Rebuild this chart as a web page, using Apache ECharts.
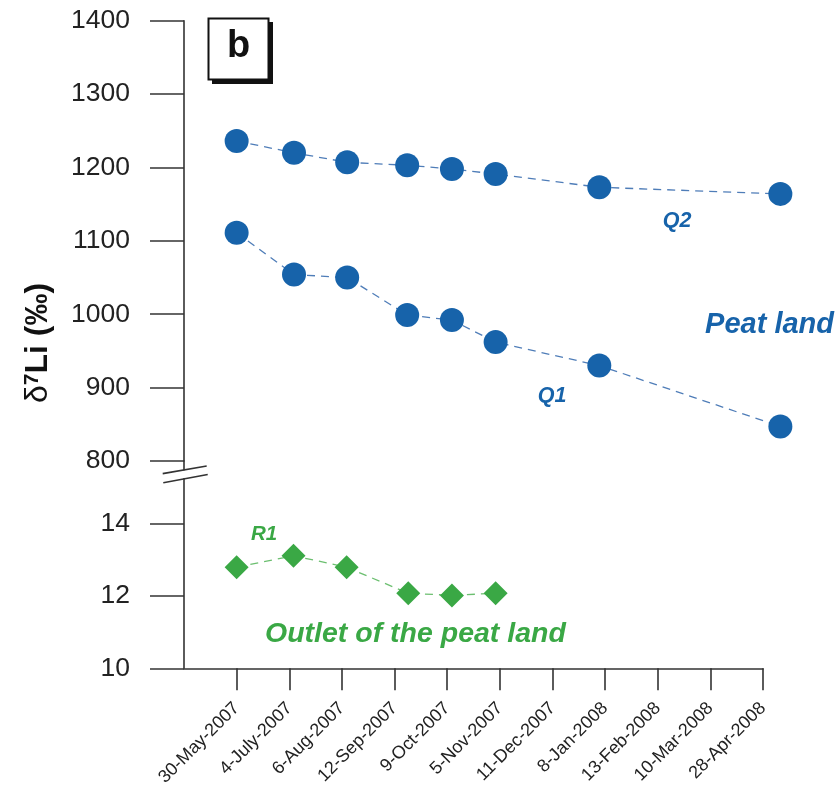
<!DOCTYPE html>
<html>
<head>
<meta charset="utf-8">
<script src="https://cdn.jsdelivr.net/npm/echarts@6/dist/echarts.min.js"></script>
<style>
html,body{margin:0;padding:0;background:#fff;}
#c{width:837px;height:794px;}
</style>
</head>
<body>
<div id="c"></div>
<script>
// ---- data ----
var dateLabels = ['30-May-2007','4-July-2007','6-Aug-2007','12-Sep-2007','9-Oct-2007','5-Nov-2007','11-Dec-2007','8-Jan-2008','13-Feb-2008','10-Mar-2008','28-Apr-2008'];
var qX  = [0, 1.09, 2.1, 3.24, 4.09, 4.92, 6.89, 10.33];
var q2  = [1236, 1220, 1207, 1203, 1198, 1191, 1173, 1164];
var q1  = [1111, 1054, 1050, 999, 992, 962, 930, 847];
var r1X = [0, 1.08, 2.09, 3.26, 4.09, 4.92];
var r1  = [12.80, 13.12, 12.80, 12.08, 12.02, 12.08];
var upperTicks = [800, 900, 1000, 1100, 1200, 1300, 1400];
var lowerTicks = [10, 12, 14];

function pairs(xs, ys){ return ys.map(function(v,i){ return [xs[i], v]; }); }

var FONT = '"Liberation Sans", Arial, Helvetica, sans-serif';
var BLUE = '#1763aa', BLUE_LINE = '#4f7db8', GREEN = '#3aa845', GREEN_LINE = '#6cbf70', AX = '#333';

var left = 184, unit = 579 / 11;
var chart = echarts.init(document.getElementById('c'));

function axisLine(){ return { show: true, onZero: false, lineStyle: { color: AX, width: 1.6 } }; }
function plain(v){ return String(v); }

chart.setOption({
  backgroundColor: '#fff',
  animation: false,
  grid: [
    { left: left, top: 20.7, width: unit * 12, height: 440.3 },
    { left: left, top: 461, width: unit * 11, height: 207.3 }
  ],
  xAxis: [
    { gridIndex: 0, type: 'value', min: -1, max: 11, show: false, axisLine: { onZero: false } },
    {
      gridIndex: 1, type: 'value', min: -1, max: 10, interval: 1,
      axisLine: axisLine(), splitLine: { show: false },
      axisTick: { show: true, length: 22, lineStyle: { color: AX, width: 1.6 }, customValues: [0,1,2,3,4,5,6,7,8,9,10] },
      axisLabel: {
        customValues: [0,1,2,3,4,5,6,7,8,9,10],
        rotate: 45, margin: 37, fontSize: 18, color: '#222', fontFamily: FONT,
        formatter: function(v){ return dateLabels[Math.round(v)] || ''; }
      }
    }
  ],
  yAxis: [
    {
      gridIndex: 0, type: 'value', min: 800, max: 1400, interval: 100,
      axisLine: axisLine(), splitLine: { show: false },
      axisTick: { show: true, length: 34, lineStyle: { color: AX, width: 1.6 }, customValues: upperTicks },
      axisLabel: { customValues: upperTicks, margin: 54, fontSize: 26.5, color: '#222', fontFamily: FONT, formatter: plain }
    },
    {
      gridIndex: 1, type: 'value', min: 10, max: 15.745, interval: 2,
      axisLine: axisLine(), splitLine: { show: false },
      axisTick: { show: true, length: 34, lineStyle: { color: AX, width: 1.6 }, customValues: lowerTicks },
      axisLabel: { customValues: lowerTicks, margin: 54, fontSize: 26.5, color: '#222', fontFamily: FONT, formatter: plain }
    }
  ],
  series: [
    { name: 'Q2', type: 'line', xAxisIndex: 0, yAxisIndex: 0, data: pairs(qX, q2), clip: false,
      symbol: 'circle', symbolSize: 24, itemStyle: { color: BLUE },
      lineStyle: { color: BLUE_LINE, width: 1.3, type: [8, 6] } },
    { name: 'Q1', type: 'line', xAxisIndex: 0, yAxisIndex: 0, data: pairs(qX, q1), clip: false,
      symbol: 'circle', symbolSize: 24, itemStyle: { color: BLUE },
      lineStyle: { color: BLUE_LINE, width: 1.3, type: [8, 6] } },
    { name: 'R1', type: 'line', xAxisIndex: 1, yAxisIndex: 1, data: pairs(r1X, r1), clip: false,
      symbol: 'diamond', symbolSize: 24, itemStyle: { color: GREEN },
      lineStyle: { color: GREEN_LINE, width: 1.3, type: [8, 6] } }
  ],
  graphic: [
    // axis break marks
    { type: 'polygon', z: 100, shape: { points: [[163,474],[207,466.5],[207.5,473.5],[163.5,482]] }, style: { fill: '#fff' } },
    { type: 'line', z: 101, shape: { x1: 162.7, y1: 473.6, x2: 206.7, y2: 466 }, style: { stroke: AX, lineWidth: 1.6 } },
    { type: 'line', z: 101, shape: { x1: 163.3, y1: 482.7, x2: 207.7, y2: 474.5 }, style: { stroke: AX, lineWidth: 1.6 } },
    // panel letter box
    { type: 'rect', z: 50, shape: { x: 212, y: 22, width: 61, height: 62 }, style: { fill: '#111' } },
    { type: 'rect', z: 51, shape: { x: 208.5, y: 18.5, width: 60, height: 61 }, style: { fill: '#fff', stroke: '#111', lineWidth: 2 } },
    { type: 'text', z: 52, x: 238.5, y: 47, style: { text: 'b', fontSize: 38, fontWeight: 'bold', fontFamily: FONT, fill: '#111', align: 'center', verticalAlign: 'middle' } },
    // axis title
    { type: 'text', z: 60, x: 38, y: 343, rotation: Math.PI / 2,
      style: { text: '{d|δ}{s|7}{b|Li (‰)}', align: 'center', verticalAlign: 'middle',
        rich: {
          d: { fontSize: 32, fontFamily: FONT, fill: '#111' },
          s: { fontSize: 21, fontFamily: FONT, fontWeight: 'bold', fill: '#111', verticalAlign: 'top', padding: [0,0,12,0] },
          b: { fontSize: 32, fontFamily: FONT, fontWeight: 'bold', fill: '#111' }
        } } },
    // annotations
    { type: 'text', x: 677, y: 221, style: { text: 'Q2', fontSize: 21.5, fontWeight: 'bold', fontStyle: 'italic', fontFamily: FONT, fill: BLUE, align: 'center', verticalAlign: 'middle' } },
    { type: 'text', x: 552, y: 396, style: { text: 'Q1', fontSize: 21.5, fontWeight: 'bold', fontStyle: 'italic', fontFamily: FONT, fill: BLUE, align: 'center', verticalAlign: 'middle' } },
    { type: 'text', x: 834, y: 325, style: { text: 'Peat land', fontSize: 29, fontWeight: 'bold', fontStyle: 'italic', fontFamily: FONT, fill: BLUE, align: 'right', verticalAlign: 'middle' } },
    { type: 'text', x: 264, y: 534, style: { text: 'R1', fontSize: 20.5, fontWeight: 'bold', fontStyle: 'italic', fontFamily: FONT, fill: GREEN, align: 'center', verticalAlign: 'middle' } },
    { type: 'text', x: 265, y: 634, style: { text: 'Outlet of the peat land', fontSize: 28.5, fontWeight: 'bold', fontStyle: 'italic', fontFamily: FONT, fill: GREEN, align: 'left', verticalAlign: 'middle' } }
  ]
});
</script>
</body>
</html>
